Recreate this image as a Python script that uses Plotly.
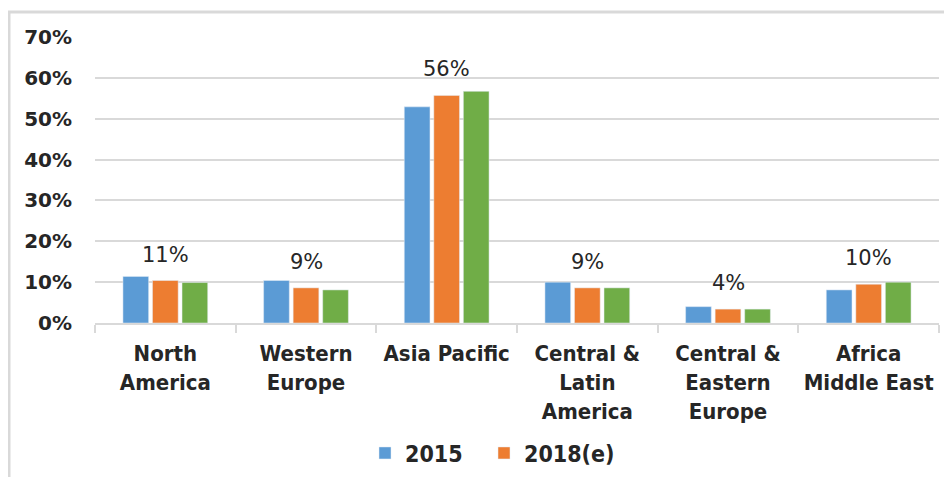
import plotly.graph_objects as go

categories = ["North<br>America", "Western<br>Europe", "Asia Pacific",
              "Central &<br>Latin<br>America", "Central &<br>Eastern<br>Europe",
              "Africa<br>Middle East"]
values_2015 = [11.4, 10.4, 52.9, 10.0, 4.0, 8.1]
values_2018 = [10.4, 8.6, 55.7, 8.6, 3.4, 9.5]
values_third = [9.9, 8.1, 56.7, 8.6, 3.4, 10.0]
label_texts = ["11%", "9%", "56%", "9%", "4%", "10%"]
y_ticks = [0, 10, 20, 30, 40, 50, 60, 70]
y_tick_labels = ["0%", "10%", "20%", "30%", "40%", "50%", "60%", "70%"]

BLUE = "#5b9bd5"
ORANGE = "#ed7d31"
GREEN = "#70ad47"
GRID = "#d9d9d9"
TEXT = "#262626"
COND = "DejaVu Sans Condensed, sans-serif"

fig = go.Figure()
fig.add_trace(go.Bar(x=categories, y=values_2015, name="2015", marker_color=BLUE,
                     legend="legend"))
fig.add_trace(go.Bar(x=categories, y=values_2018, name="2018(e)", marker_color=ORANGE,
                     legend="legend2"))
fig.add_trace(go.Bar(x=categories, y=values_third, name="", marker_color=GREEN, showlegend=False))

for cat, val, txt in zip(categories, values_2018, label_texts):
    fig.add_annotation(x=cat, y=val, text=txt, showarrow=False, yanchor="middle",
                       yshift=26, font=dict(family="DejaVu Sans, Verdana, sans-serif",
                                            size=21, color=TEXT))

# page body has an 8px margin; compensate so page coordinates match
OFF = 8
W, H = 952, 477
# desired plot area in page pixels: x 95..939, y 37..323
ml = 95 - OFF
mt = 37 - OFF
mr = W - (939 - OFF)
mb = H - (323 - OFF)
pw, ph = W - ml - mr, H - mt - mb

def px_x(p):
    return (p - OFF - ml) / pw

def px_y(p):
    return (H - mb - (p - OFF)) / ph

fig.add_shape(type="rect", xref="paper", yref="paper",
              x0=px_x(9), x1=px_x(975), y0=px_y(500), y1=px_y(12),
              line=dict(color=GRID, width=3), fillcolor="rgba(0,0,0,0)", layer="below")

legend_style = dict(orientation="h", y=px_y(453), yanchor="middle", xanchor="left",
                    font=dict(family=COND, size=23, color=TEXT, weight="bold"),
                    itemwidth=30, bgcolor="rgba(0,0,0,0)")

fig.update_layout(
    width=W, height=H,
    margin=dict(l=ml, r=mr, t=mt, b=mb, pad=0, autoexpand=False),
    paper_bgcolor="white", plot_bgcolor="white",
    barmode="group", bargap=0.37, bargroupgap=0.13,
    showlegend=True,
    legend=dict(x=px_x(365), **legend_style),
    legend2=dict(x=px_x(484), **legend_style),
    xaxis=dict(tickson="boundaries", ticks="outside", ticklen=8, tickcolor=GRID,
               tickwidth=2, showline=True, linecolor=GRID, linewidth=2,
               automargin=False, ticklabelstandoff=10,
               tickfont=dict(family=COND, size=22, color=TEXT, weight="bold"),
               showgrid=False),
    yaxis=dict(range=[0, 70], tickvals=y_ticks, ticktext=y_tick_labels,
               showgrid=True, gridcolor=GRID, gridwidth=2, zeroline=False,
               showline=False, ticks="", ticklabelstandoff=22, automargin=False,
               tickfont=dict(family="DejaVu Sans, Verdana, sans-serif", size=20,
                             color=TEXT, weight="bold")),
)

fig.write_html("out.html")
